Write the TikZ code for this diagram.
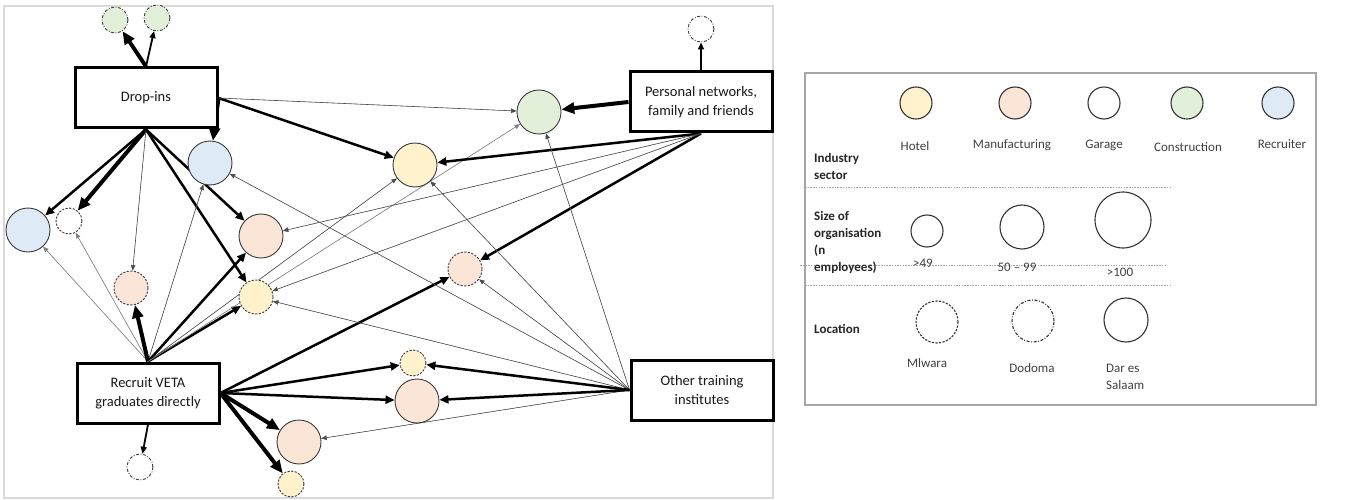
\documentclass[tikz,border=0pt]{standalone}
\usepackage{fontspec}
\setmainfont{Carlito}
\usetikzlibrary{arrows.meta,calc}
\pgfdeclarelayer{bg}
\pgfsetlayers{bg,main}
\definecolor{hotelc}{HTML}{FFF2CC}
\definecolor{manc}{HTML}{FBE5D6}
\definecolor{conc}{HTML}{E2F0D9}
\definecolor{recc}{HTML}{DEEBF7}
\definecolor{circline}{HTML}{3A3A3A}
\definecolor{legtext}{HTML}{404040}
\tikzset{
  org/.style={circle, draw=circline, line width=0.9pt, inner sep=0pt, minimum size=#1},
  hotel/.style={fill=hotelc},
  man/.style={fill=manc},
  con/.style={fill=conc},
  rec/.style={fill=recc},
  gar/.style={fill=white},
  mw/.style={dash pattern=on 2.2pt off 1.4pt},
  dd/.style={dash pattern=on 3pt off 1.6pt on 0.9pt off 1.6pt},
  src/.style={draw=black, fill=white, line width=3pt, minimum width=142pt, minimum height=60pt,
    align=center, inner sep=2pt, text=black!90, font=\fontsize{14.5}{19}\selectfont},
  e1/.style={-{Triangle[length=5.5pt,width=4.5pt]}, line width=0.6pt, draw=black!70, fill=black!70},
  e1g/.style={-{Triangle[length=5.5pt,width=4.5pt]}, line width=0.6pt, draw=black!50, fill=black!50},
  e2/.style={-{Triangle[length=7pt,width=6pt]}, line width=1.8pt},
  e3/.style={-{Triangle[length=9pt,width=8pt]}, line width=2.5pt},
  e4/.style={-{Triangle[length=13pt,width=11pt]}, line width=4pt},
  leg/.style={circle, draw=black!80, line width=1.1pt, inner sep=0pt, minimum size=#1},
  legtxt/.style={text=legtext, inner sep=0pt, font=\fontsize{13}{16.5}\selectfont},
  legbold/.style={text=black!85, inner sep=0pt, align=left, font=\fontsize{13}{17}\selectfont\bfseries},
  sep/.style={draw=black!35, line width=0.8pt, dash pattern=on 1.5pt off 1.2pt}
}
\begin{document}
\begin{tikzpicture}[x=1pt,y=-1pt]
\useasboundingbox (0,0) rectangle (1358,500);
% frame of the network
\draw[draw=black!15, line width=1.5pt] (4,6) rectangle (773,498);

% source boxes
\node[src] (dropins) at (146,98) {Drop-ins};
\node[src] (veta) at (148,393) {Recruit VETA\\graduates directly};
\node[src] (pers) at (701,102) {Personal networks,\\family and friends};
\node[src] (other) at (702,390) {Other training\\institutes};

% organisations
\node[org=26pt, con, dd] (g1) at (115,20) {};
\node[org=26pt, con, dd] (g2) at (157,18) {};
\node[org=44pt, rec] (b3) at (210,163) {};
\node[org=44pt, rec] (b4) at (28,230) {};
\node[org=26pt, gar, mw] (w5) at (69,221) {};
\node[org=34pt, man, mw] (m6) at (131,288) {};
\node[org=44pt, man] (m7) at (261,236) {};
\node[org=34pt, hotel, mw] (h8) at (256,297) {};
\node[org=44pt, hotel] (h9) at (415,165) {};
\node[org=44pt, con] (g10) at (539,112) {};
\node[org=26pt, gar, dd] (w11) at (701,29) {};
\node[org=34pt, man, mw] (m12) at (465,269) {};
\node[org=26pt, hotel, mw] (h13) at (413,363) {};
\node[org=44pt, man] (m14) at (417,401) {};
\node[org=44pt, man] (m15) at (299,442) {};
\node[org=26pt, hotel, mw] (h16) at (291,484) {};
\node[org=26pt, gar, dd] (w17) at (140,467) {};

\begin{pgfonlayer}{bg}
% Drop-ins
\draw[e4] (dropins.north) -- (g1);
\draw[e2] (dropins.north) -- (g2);
\draw[e4] (dropins.east) -- (b3);
\draw[e3] (dropins.east) -- (h9);
\draw[e1] (dropins.east) -- (g10);
\draw[e3] (dropins.south) -- (b4);
\draw[e4] (dropins.south) -- (w5);
\draw[e1] (dropins.south) -- (m6);
\draw[e3] (dropins.south) -- (m7);
\draw[e3] (dropins.south) -- (h8);
% VETA
\draw[e1g] (veta.north) -- (b4);
\draw[e1g] (veta.north) -- (w5);
\draw[e4] (veta.north) -- (m6);
\draw[e1] (veta.north) -- (b3);
\draw[e3] (veta.north) -- (m7);
\draw[e3] (veta.north) -- (h8);
\draw[e1] (veta.north) -- (h9);
\draw[e1g] (veta.north) -- (g10);
\draw[e3] (veta.east) -- (m12);
\draw[e3] (veta.east) -- (h13);
\draw[e3] (veta.east) -- (m14);
\draw[e4] (veta.east) -- (m15);
\draw[e4] (veta.east) -- (h16);
\draw[e2] (veta.south) -- (w17);
% Personal networks
\draw[e2] (pers.north) -- (w11);
\draw[e4] (pers.west) -- (g10);
\draw[e3] (pers.south) -- (h9);
\draw[e3] (pers.south) -- (m12);
\draw[e1] (pers.south) -- (m7);
\draw[e1] (pers.south) -- (h8);
% Other training institutes
\draw[e1] (other.west) -- (g10);
\draw[e1] (other.west) -- (h9);
\draw[e1] (other.west) -- (b3);
\draw[e1] (other.west) -- (m12);
\draw[e1] (other.west) -- (h8);
\draw[e1] (other.west) -- (m15);
\draw[e3] (other.west) -- (h13);
\draw[e3] (other.west) -- (m14);
\end{pgfonlayer}

% ---------------- legend ----------------
\draw[draw=black!35, line width=1.5pt] (805,73) rectangle (1316,405);
\draw[sep] (805,187) -- (1172,187);
\draw[sep] (800,265) -- (1167,265);
\draw[sep] (805,285) -- (1172,285);

\node[leg=32pt, fill=hotelc] (lh) at (916,103) {};
\node[leg=32pt, fill=manc] (lm) at (1015,103) {};
\node[leg=32pt, fill=white] (lg) at (1104,103) {};
\node[leg=32pt, fill=conc] (lc) at (1187,103) {};
\node[leg=32pt, fill=recc] (lr) at (1278,103) {};
\node[legtxt] (tlh) at (915,146) {Hotel};
\node[legtxt] (tlm) at (1012,145) {Manufacturing};
\node[legtxt] (tlg) at (1104,145) {Garage};
\node[legtxt] (tlc) at (1188,147) {Construction};
\node[legtxt] (tlr) at (1282,144) {Recruiter};
\node[legbold, anchor=west] (tind) at (814,166) {Industry\\sector};

\node[leg=32pt] (ls1) at (927,231) {};
\node[leg=44pt] (ls2) at (1022,227) {};
\node[leg=56pt] (ls3) at (1123,220) {};
\node[legbold, anchor=west] (tsize) at (814,242) {Size of\\organisation\\(n\\employees)};
\node[legtxt] (ts1) at (923,263) {>49};
\node[legtxt] (ts2) at (1017,267) {50 -- 99};
\node[legtxt] (ts3) at (1120,272) {>100};

\node[leg=42pt, mw] (ll1) at (937,322) {};
\node[leg=42pt, dd] (ll2) at (1033,321) {};
\node[leg=44pt] (ll3) at (1126,320) {};
\node[legbold, anchor=west] (tloc) at (814,329) {Location};
\node[legtxt] (tl1) at (927,363) {Mlwara};
\node[legtxt] (tl2) at (1032,368) {Dodoma};
\node[legtxt, anchor=west, align=left] (tl3) at (1106,377) {Dar es\\Salaam};
\end{tikzpicture}
\end{document}
